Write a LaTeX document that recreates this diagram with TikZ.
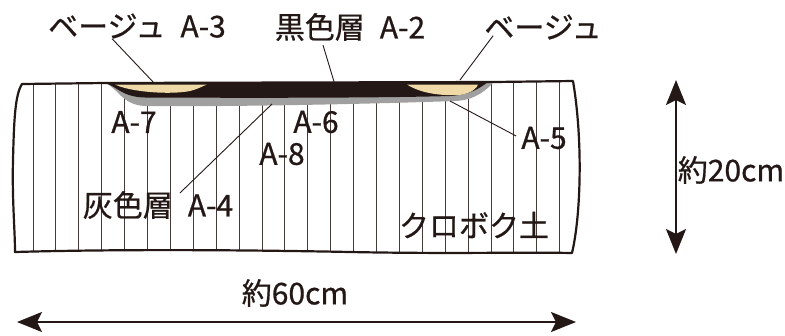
\documentclass[tikz,border=0pt]{standalone}
\usepackage{fontspec}
\setmainfont{Noto Sans CJK JP}[FakeBold=0.7]
\usetikzlibrary{arrows.meta}
\definecolor{soilblack}{HTML}{231815}
\definecolor{soilbeige}{HTML}{EFDAA7}
\definecolor{soilgray}{HTML}{A0A0A0}

\begin{document}
\begin{tikzpicture}[x=1pt, y=-1pt,
    every node/.style = {inner sep=0pt, text=soilblack, font=\fontsize{30}{32}\selectfont},
    rim/.style = {draw=soilblack, line width=2.2pt, line join=round},
    hatch/.style = {draw=soilblack!85, line width=0.9pt},
    leader/.style = {draw=soilblack, line width=0.9pt},
    dim/.style = {draw=soilblack, line width=2pt,
      {Stealth[length=25pt, width=20pt, inset=5pt]}-{Stealth[length=25pt, width=20pt, inset=5pt]}}]
  \useasboundingbox (0,0) rectangle (785,335);

  % the block of soil, striped, with the thin layers on top
  \begin{scope}
    \clip (22,84) .. controls (15,95) and (14,120) .. (13,160)
      .. controls (12,200) and (15,230) .. (15,252)
      .. controls (120,249) and (250,250) .. (350,252)
      .. controls (450,254) and (520,252) .. (572,253)
      .. controls (581,215) and (583,140) .. (573,81)
      -- (494,82) -- (105,83) -- cycle;
    \foreach \k in {0,...,23}
      \draw[hatch] ({33+22.9*\k},70) -- ({33+22.9*\k},260);
    % grey layer under the black one
    \fill[soilgray] (105,83) .. controls (118,88) and (122,105) .. (145,106)
      .. controls (250,107) and (400,103) .. (455,101)
      .. controls (476,100) and (486,90) .. (494,82) -- cycle;
    \fill[soilblack] (105,83) .. controls (118,87) and (122,97) .. (145,97.5)
      .. controls (250,98) and (380,98) .. (450,96)
      .. controls (470,95) and (480,88) .. (488,82) -- cycle;
    % beige lenses
    \fill[soilbeige] (115,84.5) .. controls (130,92) and (170,95) .. (190,91)
      .. controls (198,89) and (203,86) .. (207,84.5) -- cycle;
    \fill[soilbeige] (407,84.5) .. controls (420,93) and (440,96) .. (460,95)
      .. controls (472,93) and (477,88) .. (478,84.5) -- cycle;
  \end{scope}
  \draw[rim] (22,84) .. controls (15,95) and (14,120) .. (13,160)
    .. controls (12,200) and (15,230) .. (15,252)
    .. controls (120,249) and (250,250) .. (350,252)
    .. controls (450,254) and (520,252) .. (572,253)
    .. controls (581,215) and (583,140) .. (573,81)
    -- (494,82) -- (105,83) -- cycle;

  \node (beigeL) at (137,26) {ベージュ\enspace A-3};
  \node (blackL) at (350,27) {黒色層\enspace A-2};
  \node (beigeR) at (543,27) {ベージュ};
  \node (a7) at (134,122) {A-7};
  \node (a6) at (316,122) {A-6};
  \node (a8) at (282,154) {A-8};
  \node (a5) at (544,138) {A-5};
  \node (grayL) at (158,205) {灰色層\enspace A-4};
  \node (kuroboku) at (474,225) {クロボク土};
  \node (depth) at (731,170) {約20cm};
  \node (width) at (295,293) {約60cm};

  \coordinate (onbeigeL) at (155,84);
  \coordinate (onblack) at (335,85);
  \coordinate (onbeigeR) at (460,80);
  \coordinate (ongrayR) at (450,101);
  \coordinate (ongray) at (272,104);
  \draw[leader] ([xshift=-25pt]beigeL.south) -- (onbeigeL);
  \draw[leader] ([xshift=-27pt, yshift=-4pt]blackL.south) -- (onblack);
  \draw[leader] ([xshift=9pt, yshift=4pt]beigeR.south west) -- (onbeigeR);
  \draw[leader] ([xshift=-5pt, yshift=2pt]a5.west) -- (ongrayR);
  \draw[leader] ([xshift=22pt, yshift=-2pt]grayL.north) -- (ongray);

  % sizes
  \coordinate (htop) at (676,80);
  \coordinate (hbot) at (676,254);
  \coordinate (wleft) at (17,322);
  \coordinate (wright) at (576,322);
  \draw[dim] (htop) -- (hbot);
  \draw[dim] (wleft) -- (wright);
\end{tikzpicture}
\end{document}
